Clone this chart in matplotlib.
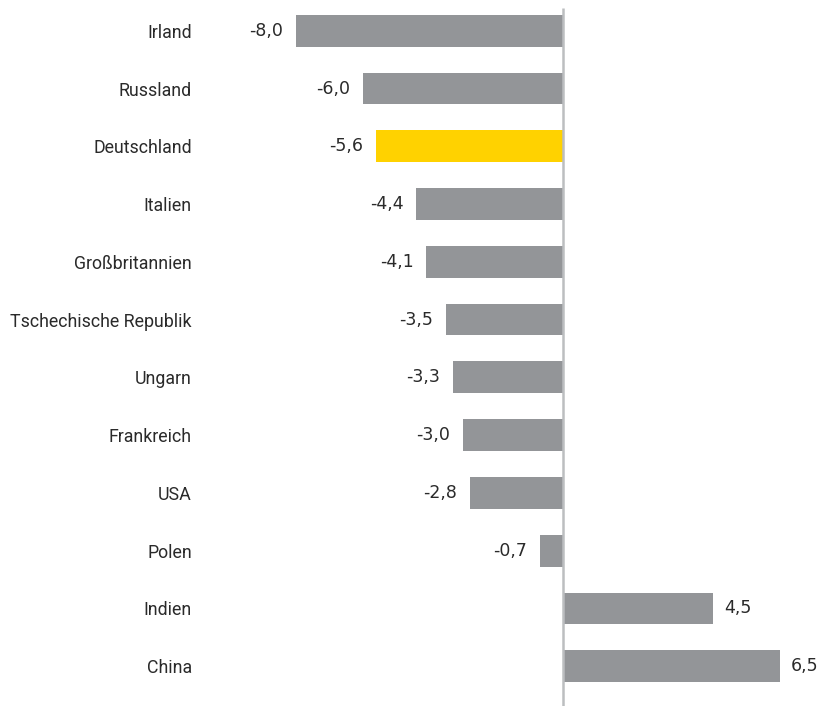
import matplotlib
matplotlib.use("Agg")
import matplotlib.pyplot as plt

laender = ["Irland", "Russland", "Deutschland", "Italien", "Großbritannien",
           "Tschechische Republik", "Ungarn", "Frankreich", "USA", "Polen",
           "Indien", "China"]
werte = [-8.0, -6.0, -5.6, -4.4, -4.1, -3.5, -3.3, -3.0, -2.8, -0.7, 4.5, 6.5]
hervorheben = "Deutschland"

grau = "#939598"
gelb = "#FFD200"

fig = plt.figure(figsize=(8.33, 7.06), dpi=100)
ax = fig.add_axes([205 / 833, 0, (833 - 205) / 833, 1])

pos = list(range(len(laender)))
farben = [gelb if l == hervorheben else grau for l in laender]
ax.barh(pos, werte, height=0.55, color=farben, zorder=2)

ax.set_xlim(-10.72, 8.08)
ax.set_ylim(11.69, -0.533)
ax.vlines(0, -0.39, 11.69, color="#bcbec0", linewidth=1.8, zorder=3)

for p, v in zip(pos, werte):
    txt = f"{v:.1f}".replace(".", ",")
    if v < 0:
        ax.text(v - 0.38, p, txt, ha="right", va="center", fontsize=12.5,
                color="#2a2a2a", family="DejaVu Sans")
    else:
        ax.text(v + 0.33, p, txt, ha="left", va="center", fontsize=12.5,
                color="#2a2a2a", family="DejaVu Sans")

ax.set_yticks(pos)
ax.set_yticklabels(laender, family=["Roboto", "DejaVu Sans"],
                   fontsize=12.8, color="#2a2a2a")
ax.tick_params(axis="y", length=0, pad=9.5)
ax.set_xticks([])
for s in ax.spines.values():
    s.set_visible(False)

fig.savefig("out.png", dpi=100)
